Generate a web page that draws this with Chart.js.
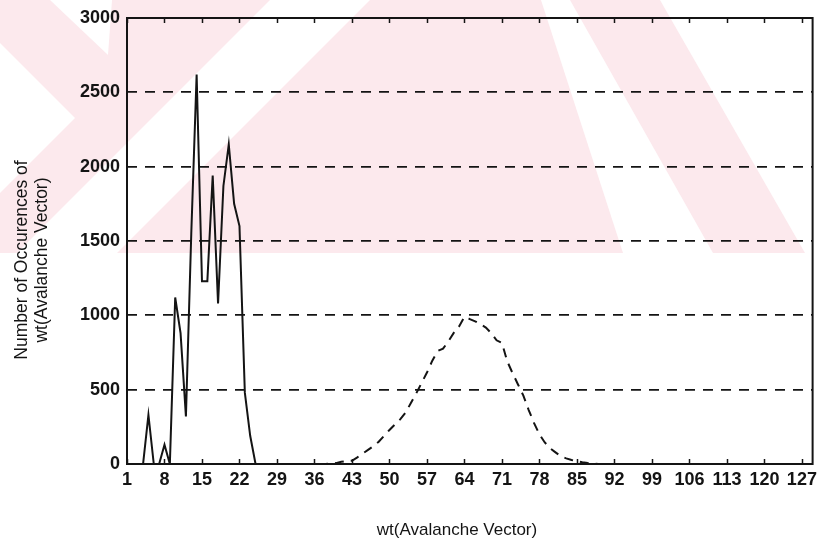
<!DOCTYPE html>
<html>
<head>
<meta charset="utf-8">
<script src="https://cdn.jsdelivr.net/npm/chart.js@4.4.1/dist/chart.umd.min.js"></script>
<style>
  html, body { margin: 0; padding: 0; background: #fff; }
</style>
</head>
<body>
<canvas id="chart" width="822" height="544"></canvas>
<script>
// avalanche vector weights on the x axis
const weights = [];
for (let w = 1; w <= 129; w++) weights.push(w);

const xTicks = [1, 8, 15, 22, 29, 36, 43, 50, 57, 64, 71, 78, 85, 92, 99, 106, 113, 120, 127];
const yTicks = [0, 500, 1000, 1500, 2000, 2500, 3000];

// occurrences per weight, solid curve (weights 1..129)
const solidCounts = [
  0, 0, 0, 0, 330, 0, 0, 130, 0, 1120,
  880, 320, 1550, 2620, 1230, 1230, 1940, 1080, 1870, 2150,
  1750, 1600, 480, 190, 0, 0, 0, 0, 0, 0,
  0, 0, 0, 0, 0, 0, 0, 0, 0, 0,
  0, 0, 0, 0, 0, 0, 0, 0, 0, 0,
  0, 0, 0, 0, 0, 0, 0, 0, 0, 0,
  0, 0, 0, 0, 0, 0, 0, 0, 0, 0,
  0, 0, 0, 0, 0, 0, 0, 0, 0, 0,
  0, 0, 0, 0, 0, 0, 0, 0, 0, 0,
  0, 0, 0, 0, 0, 0, 0, 0, 0, 0,
  0, 0, 0, 0, 0, 0, 0, 0, 0, 0,
  0, 0, 0, 0, 0, 0, 0, 0, 0, 0,
  0, 0, 0, 0, 0, 0, 0, 0, 0
];

// occurrences per weight, dashed curve (weights 1..129)
const dashedCounts = [
  0, 0, 0, 0, 0, 0, 0, 0, 0, 0,
  0, 0, 0, 0, 0, 0, 0, 0, 0, 0,
  0, 0, 0, 0, 0, 0, 0, 0, 0, 0,
  0, 0, 0, 0, 0, 0, 0, 0, 3, 6,
  15, 20, 22, 45, 70, 95, 120, 150, 190, 229,
  265, 300, 345, 410, 475, 545, 615, 695, 760, 776,
  825, 882, 925, 990, 975, 960, 940, 918, 880, 832,
  814, 690, 610, 535, 460, 363, 275, 200, 145, 105,
  78, 52, 38, 27, 20, 12, 6, 2, 0, 0,
  0, 0, 0, 0, 0, 0, 0, 0, 0, 0,
  0, 0, 0, 0, 0, 0, 0, 0, 0, 0,
  0, 0, 0, 0, 0, 0, 0, 0, 0, 0,
  0, 0, 0, 0, 0, 0, 0, 0, 0
];

const ink = '#141414';
const tickFont = { family: 'Liberation Sans, Arial, sans-serif', size: 18, weight: 'bold' };

// pink backdrop with pale diagonal bands across the upper part of the page
const backdrop = {
  id: 'backdrop',
  beforeDraw(chart) {
    const c = chart.ctx;
    c.save();
    c.fillStyle = '#ffffff';
    c.fillRect(0, 0, chart.width, chart.height);
    c.fillStyle = '#fce9ed';
    c.fillRect(0, 0, chart.width, 253);
    c.fillStyle = '#ffffff';
    const bands = [
      [[50, 0], [112, 0], [108, 55]],
      [[0, 43], [75, 118], [0, 193]],
      [[270, 0], [370, 0], [117, 253], [17, 253]],
      [[541, 0], [570, 0], [713, 253], [623, 253]],
      [[660, 0], [822, 0], [822, 253], [805, 253]]
    ];
    bands.forEach(poly => {
      c.beginPath();
      poly.forEach(([x, y], i) => (i ? c.lineTo(x, y) : c.moveTo(x, y)));
      c.closePath();
      c.fill();
    });
    c.restore();
  }
};

// box round the plot, inward ticks, axis titles
const frame = {
  id: 'frame',
  afterDatasetsDraw(chart) {
    const c = chart.ctx;
    const { left, right, top, bottom } = chart.chartArea;
    const xs = chart.scales.x;
    c.save();
    c.strokeStyle = ink;
    c.lineWidth = 2;
    c.strokeRect(left, top, right - left, bottom - top);
    c.lineWidth = 1.5;
    c.beginPath();
    xTicks.forEach(v => {
      const px = Math.round(xs.getPixelForValue(v)) + 0.5;
      c.moveTo(px, bottom); c.lineTo(px, bottom - 5);
      c.moveTo(px, top); c.lineTo(px, top + 5);
    });
    c.stroke();

    c.fillStyle = ink;
    c.font = '17px Liberation Sans, Arial, sans-serif';
    c.textAlign = 'center';
    c.textBaseline = 'middle';
    c.fillText('wt(Avalanche Vector)', 457, 530);
    c.translate(0, 260);
    c.rotate(-Math.PI / 2);
    c.font = '17.5px Liberation Sans, Arial, sans-serif';
    c.fillText('Number of Occurences of', 0, 22);
    c.fillText('wt(Avalanche Vector)', 0, 42);
    c.restore();
  }
};

new Chart(document.getElementById('chart'), {
  type: 'line',
  data: {
    datasets: [
      {
        data: solidCounts.map((v, i) => ({ x: weights[i], y: v })),
        borderColor: ink,
        borderWidth: 2,
        pointRadius: 0,
      },
      {
        data: dashedCounts.map((v, i) => ({ x: weights[i], y: v })),
        borderColor: ink,
        borderWidth: 2,
        borderDash: [9, 7],
        pointRadius: 0,
      },
    ],
  },
  options: {
    responsive: false,
    animation: false,
    devicePixelRatio: 1,
    layout: { padding: { top: 18, right: 6, left: 0, bottom: 0 } },
    plugins: {
      legend: { display: false },
      tooltip: { enabled: false },
    },
    scales: {
      x: {
        type: 'linear',
        min: 1,
        max: 129,
        afterBuildTicks: axis => { axis.ticks = xTicks.map(v => ({ value: v })); },
        afterFit: axis => { axis.height = 80; },
        grid: { display: false, drawTicks: false },
        border: { display: false },
        ticks: { font: tickFont, color: ink, padding: 5, maxRotation: 0, autoSkip: false },
      },
      y: {
        min: 0,
        max: 3000,
        afterBuildTicks: axis => { axis.ticks = yTicks.map(v => ({ value: v })); },
        afterFit: axis => { axis.width = 127; },
        grid: {
          color: ctx => (ctx.tick && (ctx.tick.value === 0 || ctx.tick.value === 3000) ? 'rgba(0,0,0,0)' : ink),
          lineWidth: 1.8,
          drawTicks: false,
        },
        border: { display: false, dash: [10, 8] },
        ticks: { font: tickFont, color: ink, padding: 7, callback: v => String(v) },
      },
    },
  },
  plugins: [backdrop, frame],
});
</script>
</body>
</html>
